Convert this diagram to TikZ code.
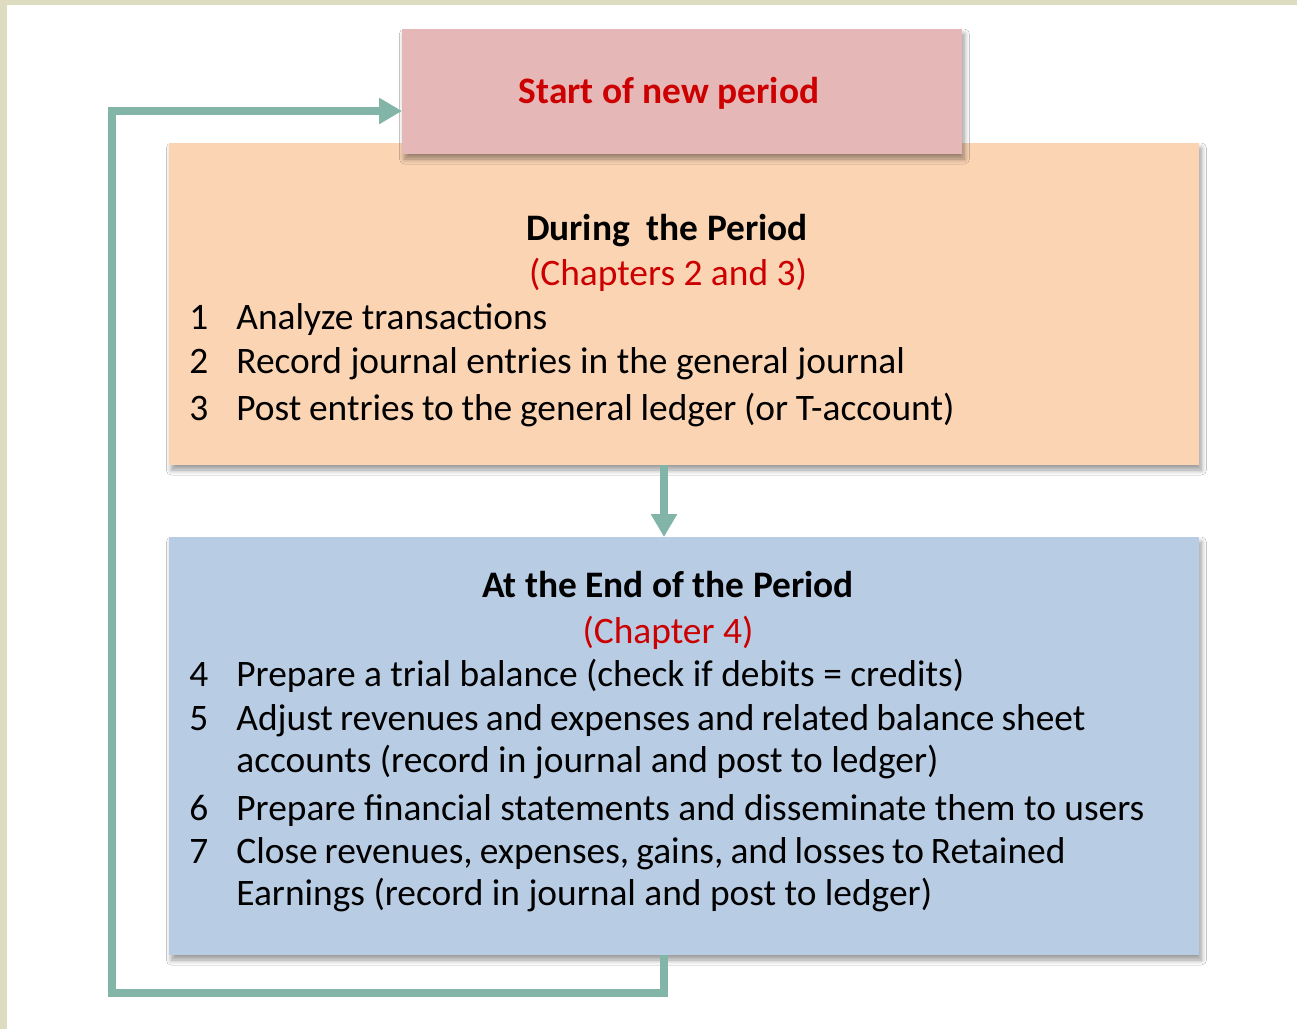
\documentclass[tikz,border=0pt]{standalone}
\usepackage{fontspec}
\setmainfont{Carlito}
\usepackage{tikz}
\usetikzlibrary{arrows.meta,calc,positioning,shadows.blur}
\definecolor{PageFrame}{HTML}{DEDCC0}
\definecolor{StartPink}{HTML}{E5B8B7}
\definecolor{DuringPeach}{HTML}{FBD4B4}
\definecolor{EndBlue}{HTML}{B8CCE4}
\definecolor{CycleTeal}{HTML}{82B5A7}
\definecolor{ChapterRed}{HTML}{CC0000}

\begin{document}
\begin{tikzpicture}[x=0.5pt, y=-0.5pt,
    box/.style={rectangle, inner sep=0pt, outer sep=0pt,
        blur shadow={shadow xshift=1.2pt, shadow yshift=-2.5pt, shadow blur steps=8,
            shadow blur radius=2.5pt, shadow opacity=40}},
    flowline/.style={CycleTeal, line width=3.9pt,
        -{Triangle[length=11.5pt, width=12.5pt]}},
    heading/.style={anchor=base, inner sep=0pt, font=\fontsize{18.7}{22}\selectfont\bfseries},
    chapter/.style={anchor=base, inner sep=0pt, ChapterRed, font=\fontsize{18.7}{22}\selectfont},
    item/.style={anchor=base west, inner sep=0pt, font=\fontsize{18.7}{22}\selectfont}]

    % page and frame
    \fill[PageFrame] (0,0) rectangle (1297,1029);
    \fill[white] (7,5) rectangle (1297,1029);

    % the three boxes
    \node[box, fill=DuringPeach, minimum width=515pt, minimum height=161pt] (during) at (684,304) {};
    \node[box, fill=EndBlue, minimum width=515pt, minimum height=209pt] (end) at (684,746) {};
    \node[box, fill=StartPink, minimum width=280pt, minimum height=62.5pt] (start) at (682,91.5) {};

    \node[heading, ChapterRed] (starttext) at (669,103) {Start of new period};

    \node[heading] (duringhead) at (667,240) {During~ the Period};
    \node[chapter] (duringchap) at (668,285) {(Chapters 2 and 3)};
    \foreach \n/\y/\t in {1/329/{Analyze transactions},
                          2/373/{Record journal entries in the general journal},
                          3/420/{\makebox[359pt][s]{Post entries to the general ledger (or T-account)}}} {
        \node[item] (num\n) at (189,\y) {\n};
        \node[item] (step\n) at (236,\y) {\t};
    }

    \node[heading] (endhead) at (668,597) {At the End of the Period};
    \node[chapter] (endchap) at (668,643) {(Chapter 4)};
    \foreach \n/\y/\t in {4/686/{Prepare a trial balance (check if debits = credits)},
                          5/730/{\makebox[424.5pt][s]{Adjust revenues and expenses and related balance sheet}},
                          6/820/{Prepare financial statements and disseminate them to users},
                          7/863/{\makebox[414.5pt][s]{Close revenues, expenses, gains, and losses to Retained}}} {
        \node[item] (num\n) at (189,\y) {\n};
        \node[item] (step\n) at (236,\y) {\t};
    }
    \node[item] (step5b) at (236,772) {accounts (record in journal and post to ledger)};
    \node[item] (step7b) at (236,905) {Earnings (record in journal and post to ledger)};

    % arrows of the cycle
    \coordinate (flowx) at (664,0);
    \coordinate (loopin) at ($(start.west)+(0,19.5)$);
    \draw[flowline] (during.south -| flowx) -- (end.north -| flowx);
    \draw[flowline] (end.south -| flowx) |- (112,993) |- (loopin);
\end{tikzpicture}
\end{document}
